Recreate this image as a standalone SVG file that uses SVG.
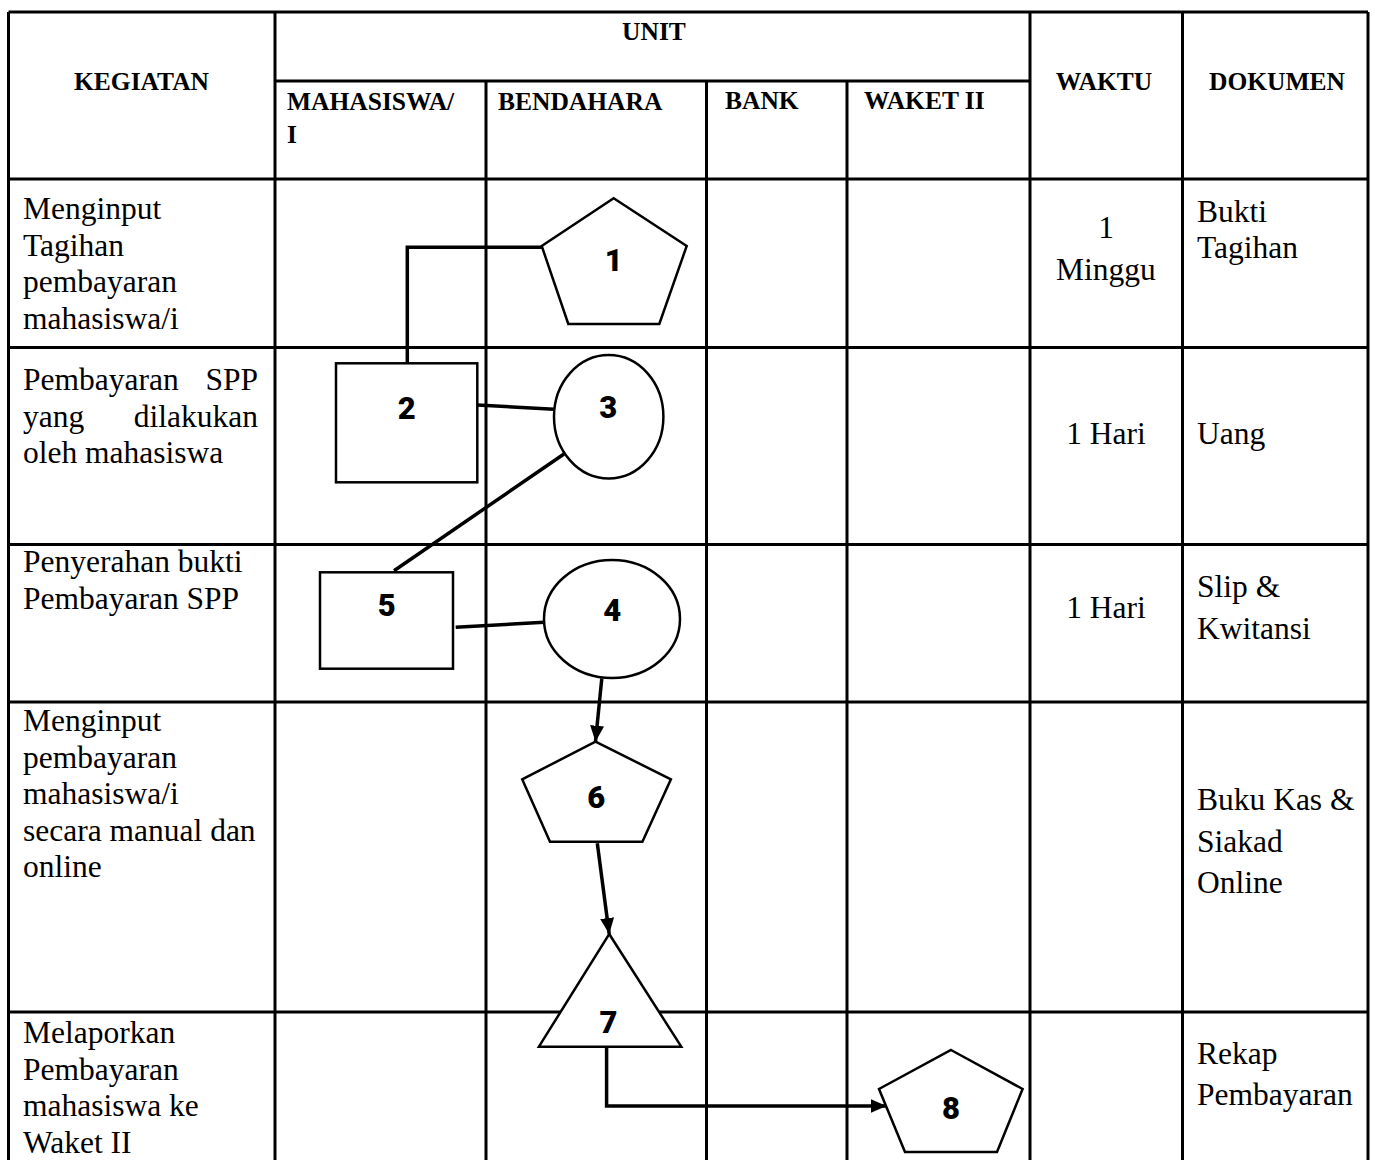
<svg xmlns="http://www.w3.org/2000/svg" width="1375" height="1160" viewBox="0 0 1375 1160">
<style>
.grid{stroke:#000;stroke-width:3;fill:none}
.hd{font-family:"Liberation Serif","Times New Roman",serif;font-weight:bold;font-size:25.5px;fill:#000}
.tx{font-family:"Liberation Serif","Times New Roman",serif;font-size:31.5px;fill:#000}
.shape{fill:#fff;stroke:#000;stroke-width:2.5}
.num{font-family:Roboto,"DejaVu Sans",sans-serif;font-weight:900;font-size:31px;fill:#000;text-anchor:middle}
.conn{stroke:#000;stroke-width:3.5;fill:none}
</style>
<defs>
<marker id="arr" markerUnits="userSpaceOnUse" markerWidth="18" markerHeight="14" refX="16" refY="7" orient="auto">
<path d="M0,0 L16,7 L0,14 Z" fill="#000"/>
</marker>
</defs>
<rect width="1375" height="1160" fill="#fff"/>
<g id="table">
<path class="grid" d="M8.5,12 H1368 M275,81 H1030 M8.5,179 H1368 M8.5,347.5 H1368 M8.5,544.5 H1368 M8.5,702 H1368 M8.5,1012 H1368 M8.5,12 V1160 M275,12 V1160 M486,81 V1160 M706.5,81 V1160 M847,81 V1160 M1030,12 V1160 M1182.5,12 V1160 M1368,12 V1160"/>
<text class="hd" x="654" y="40" text-anchor="middle">UNIT</text>
<text class="hd" x="141.5" y="90" text-anchor="middle">KEGIATAN</text>
<text class="hd" x="287" y="110">MAHASISWA/</text>
<text class="hd" x="287" y="143">I</text>
<text class="hd" x="498" y="110">BENDAHARA</text>
<text class="hd" x="725" y="109">BANK</text>
<text class="hd" x="864" y="109">WAKET II</text>
<text class="hd" x="1104" y="90" text-anchor="middle">WAKTU</text>
<text class="hd" x="1277" y="90" text-anchor="middle">DOKUMEN</text>
<text class="tx" x="23" y="219">Menginput</text>
<text class="tx" x="23" y="255.5">Tagihan</text>
<text class="tx" x="23" y="292">pembayaran</text>
<text class="tx" x="23" y="328.5">mahasiswa/i</text>
<text class="tx" x="23" y="390">Pembayaran</text>
<text class="tx" x="258" y="390" text-anchor="end">SPP</text>
<text class="tx" x="23" y="426.5">yang</text>
<text class="tx" x="258" y="426.5" text-anchor="end">dilakukan</text>
<text class="tx" x="23" y="463">oleh mahasiswa</text>
<text class="tx" x="23" y="572">Penyerahan bukti</text>
<text class="tx" x="23" y="608.5">Pembayaran SPP</text>
<text class="tx" x="23" y="731">Menginput</text>
<text class="tx" x="23" y="767.5">pembayaran</text>
<text class="tx" x="23" y="804">mahasiswa/i</text>
<text class="tx" x="23" y="840.5">secara manual dan</text>
<text class="tx" x="23" y="877">online</text>
<text class="tx" x="23" y="1043">Melaporkan</text>
<text class="tx" x="23" y="1079.5">Pembayaran</text>
<text class="tx" x="23" y="1116">mahasiswa ke</text>
<text class="tx" x="23" y="1152.5">Waket II</text>
<text class="tx" x="1106" y="238" text-anchor="middle">1</text>
<text class="tx" x="1106" y="279.5" text-anchor="middle">Minggu</text>
<text class="tx" x="1106" y="444" text-anchor="middle">1 Hari</text>
<text class="tx" x="1106" y="618" text-anchor="middle">1 Hari</text>
<text class="tx" x="1197" y="221.5">Bukti</text>
<text class="tx" x="1197" y="258">Tagihan</text>
<text class="tx" x="1197" y="444">Uang</text>
<text class="tx" x="1197" y="597">Slip &amp;</text>
<text class="tx" x="1197" y="638.5">Kwitansi</text>
<text class="tx" x="1197" y="810">Buku Kas &amp;</text>
<text class="tx" x="1197" y="851.5">Siakad</text>
<text class="tx" x="1197" y="893">Online</text>
<text class="tx" x="1197" y="1063.5">Rekap</text>
<text class="tx" x="1197" y="1105">Pembayaran</text>
</g>
<g id="connectors">
<polyline class="conn" points="541.7,247.3 407.3,247.3 407.3,363.3"/>
<line class="conn" x1="477.3" y1="405" x2="554" y2="409.3"/>
<line class="conn" x1="564" y1="454" x2="394" y2="570.7"/>
<line class="conn" x1="455.7" y1="627.3" x2="544.3" y2="622.3"/>
<line class="conn" x1="601.8" y1="678.3" x2="595.5" y2="741.7" marker-end="url(#arr)"/>
<line class="conn" x1="597.3" y1="843.3" x2="609.2" y2="934" marker-end="url(#arr)"/>
<polyline class="conn" points="606.6,1046.7 606.6,1106 886.5,1106" marker-end="url(#arr)"/>
</g>
<g id="node1">
<polygon class="shape" points="613.7,198.3 686.7,246 659.3,324 568.3,324 541.7,246"/>
<text class="num" x="613.7" y="271">1</text>
</g>
<g id="node2">
<rect class="shape" x="336" y="363.3" width="141.3" height="119"/>
<text class="num" x="406.7" y="419">2</text>
</g>
<g id="node3">
<ellipse class="shape" cx="608.7" cy="416.7" rx="54.7" ry="61.7"/>
<text class="num" x="608.3" y="417.7">3</text>
</g>
<g id="node4">
<ellipse class="shape" cx="612" cy="619" rx="68" ry="59"/>
<text class="num" x="612.3" y="621">4</text>
</g>
<g id="node5">
<rect class="shape" x="320" y="572.3" width="133" height="96.4"/>
<text class="num" x="386.7" y="616">5</text>
</g>
<g id="node6">
<polygon class="shape" points="595.5,741.7 670.9,779.3 642.4,841.7 550,841.7 522.2,779.3"/>
<text class="num" x="596.2" y="807.7">6</text>
</g>
<g id="node7">
<polygon class="shape" points="609.2,934 681.3,1046.7 538.9,1046.7"/>
<text class="num" x="608.4" y="1032.7">7</text>
</g>
<g id="node8">
<polygon class="shape" points="951,1050 1022.6,1089 997,1152 905,1152 879,1089"/>
<text class="num" x="951" y="1119">8</text>
</g>
</svg>
